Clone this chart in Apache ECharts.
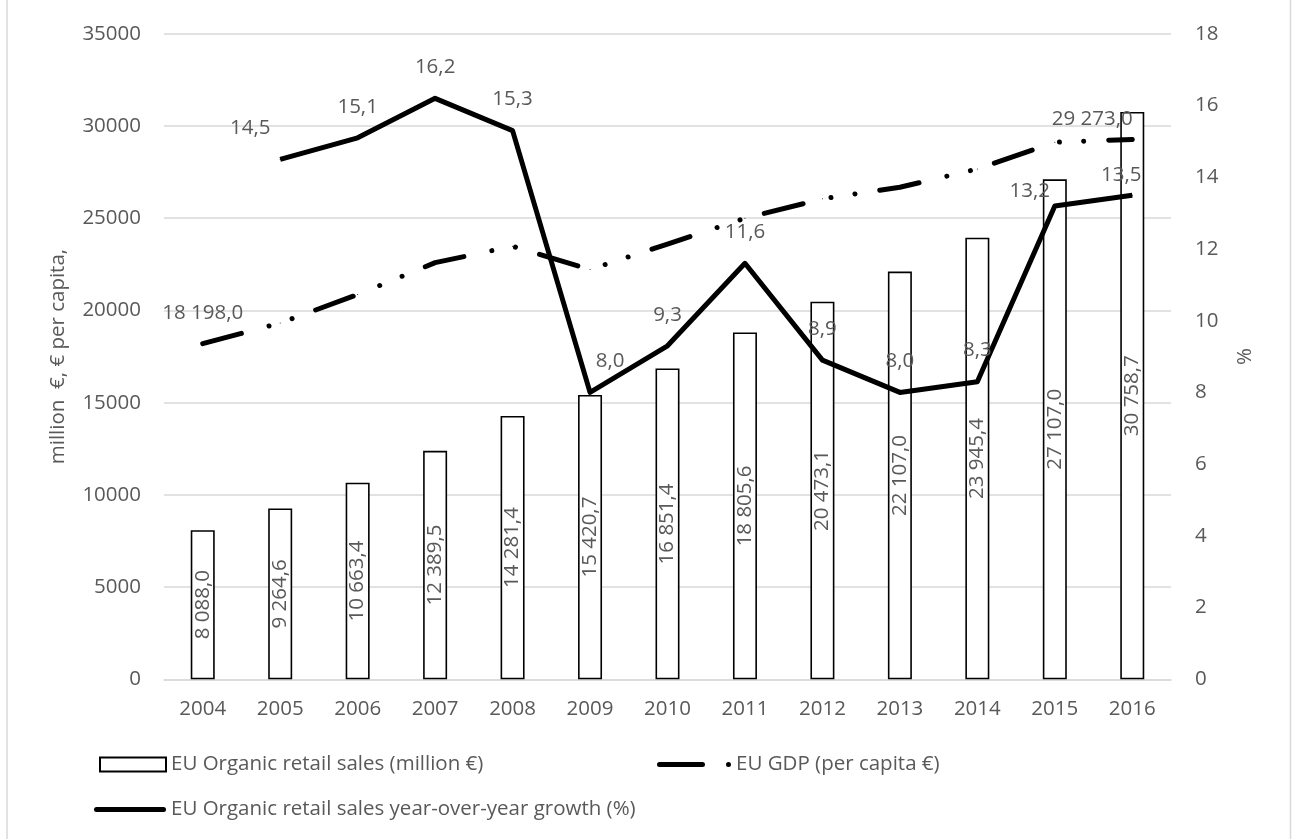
<!DOCTYPE html>
<html>
<head>
<meta charset="utf-8">
<script src="https://cdn.jsdelivr.net/npm/echarts@6/dist/echarts.min.js"></script>
<style>
html,body{margin:0;padding:0;background:#fff;}
#chart{width:1292px;height:839px;}
</style>
</head>
<body>
<div id="chart"></div>
<script>
const years = ['2004','2005','2006','2007','2008','2009','2010','2011','2012','2013','2014','2015','2016'];
const retailSales = [8088.0, 9264.6, 10663.4, 12389.5, 14281.4, 15420.7, 16851.4, 18805.6, 20473.1, 22107.0, 23945.4, 27107.0, 30758.7];
const gdpPerCapita = [18198.0, 19320, 20860, 22590, 23480, 22220, 23600, 25000, 26050, 26680, 27670, 29120, 29273.0];
const growthPct = [null, 14.5, 15.1, 16.2, 15.3, 8.0, 9.3, 11.6, 8.9, 8.0, 8.3, 13.2, 13.5];
const leftTicks = {min: 0, max: 35000, interval: 5000};
const rightTicks = {min: 0, max: 18, interval: 2};
const nameBar = 'EU Organic retail sales (million €)';
const nameGdp = 'EU GDP (per capita €)';
const nameGrowth = 'EU Organic retail sales year-over-year growth (%)';

const FONT = '"Open Sans", "Noto Sans", sans-serif';
const FS = 20.5;
const TXT = '#595959';
const GRID = '#d9d9d9';

function fmtNum(v) {
  const p = v.toFixed(1).split('.');
  return p[0].replace(/\B(?=(\d{3})+(?!\d))/g, ' ') + ',' + p[1];
}

// label offsets for growth points (style only)
const growthOffsets = {1: [-30, 0], 5: [20, 0], 11: [-25, 16], 12: [-11, 11]};
const growthData = growthPct.map((v, i) => {
  if (v === null) return null;
  const o = growthOffsets[i];
  return o ? {value: v, label: {offset: o}} : v;
});
const gdpData = gdpPerCapita.map((v, i) => {
  if (i === 0) return {value: v, label: {show: true}};
  if (i === gdpPerCapita.length - 1) return {value: v, label: {show: true, offset: [-40, 11]}};
  return v;
});

const chart = echarts.init(document.getElementById('chart'), null, {renderer: 'canvas'});
const textStyle = {color: TXT, fontFamily: FONT, fontSize: FS};

chart.setOption({
  animation: false,
  backgroundColor: '#fff',
  textStyle: {fontFamily: FONT},
  grid: {left: 164, right: 121, top: 33.8, bottom: 159.7, containLabel: false},
  legend: [
    {
      data: [{name: nameBar, icon: 'rect'}],
      left: 94, top: 749, itemWidth: 66, itemHeight: 14,
      selectedMode: false, textStyle: textStyle
    },
    {
      data: [{name: nameGdp, icon: 'path://M2.5,0 H45.5 A2.5,2.5 0 0 1 45.5,5 H2.5 A2.5,2.5 0 0 1 2.5,0 Z M71.5,0 A2.5,2.5 0 1 1 71.5,5 A2.5,2.5 0 1 1 71.5,0 Z'}],
      left: 652, top: 749, itemWidth: 74, itemHeight: 5,
      selectedMode: false, textStyle: textStyle
    },
    {
      data: [{name: nameGrowth, icon: 'path://M2.5,0 H69.5 A2.5,2.5 0 0 1 69.5,5 H2.5 A2.5,2.5 0 0 1 2.5,0 Z'}],
      left: 89, top: 794, itemWidth: 72, itemHeight: 5,
      selectedMode: false, textStyle: textStyle
    }
  ],
  xAxis: {
    type: 'category',
    data: years,
    boundaryGap: true,
    axisTick: {show: false},
    axisLine: {lineStyle: {color: GRID, width: 1.5}},
    axisLabel: {color: TXT, fontFamily: FONT, fontSize: FS, margin: 19}
  },
  yAxis: [
    {
      type: 'value',
      min: leftTicks.min, max: leftTicks.max, interval: leftTicks.interval,
      name: 'million  €, € per capita,',
      nameLocation: 'middle', nameRotate: 90, nameGap: 95,
      nameTextStyle: {color: TXT, fontFamily: FONT, fontSize: FS},
      axisLine: {show: false}, axisTick: {show: false},
      axisLabel: {color: TXT, fontFamily: FONT, fontSize: FS, margin: 23, formatter: v => String(v)},
      splitLine: {lineStyle: {color: GRID, width: 1.5}}
    },
    {
      type: 'value',
      min: rightTicks.min, max: rightTicks.max, interval: rightTicks.interval,
      name: '%',
      nameLocation: 'middle', nameRotate: 90, nameGap: 64,
      nameTextStyle: {color: TXT, fontFamily: FONT, fontSize: FS},
      axisLine: {show: false}, axisTick: {show: false},
      axisLabel: {color: TXT, fontFamily: FONT, fontSize: FS, margin: 24},
      splitLine: {show: false}
    }
  ],
  series: [
    {
      name: nameBar,
      type: 'bar',
      yAxisIndex: 0,
      data: retailSales,
      barWidth: 24,
      itemStyle: {color: '#ffffff', borderColor: '#000000', borderWidth: 1.6},
      label: {
        show: true, position: 'inside', rotate: 90,
        color: TXT, fontFamily: FONT, fontSize: FS,
        formatter: p => fmtNum(p.value)
      }
    },
    {
      name: nameGdp,
      type: 'line',
      yAxisIndex: 0,
      data: gdpData,
      symbol: 'circle', symbolSize: 1,
      itemStyle: {color: '#000000'},
      lineStyle: {color: '#000000', width: 5, type: [40, 28.6, 0.01, 24.2, 0.01, 25.1], cap: 'round', join: 'round'},
      label: {
        show: false, position: 'top', distance: 20,
        color: TXT, fontFamily: FONT, fontSize: FS,
        formatter: p => fmtNum(p.value)
      },
      z: 3
    },
    {
      name: nameGrowth,
      type: 'line',
      yAxisIndex: 1,
      data: growthData,
      symbol: 'circle', symbolSize: 1,
      itemStyle: {color: '#000000'},
      lineStyle: {color: '#000000', width: 5, join: 'round'},
      label: {
        show: true, position: 'top', distance: 20,
        color: TXT, fontFamily: FONT, fontSize: FS,
        formatter: p => p.value.toFixed(1).replace('.', ',')
      },
      z: 4
    }
  ],
  graphic: [
    {type: 'line', shape: {x1: 7, y1: 0, x2: 7, y2: 839}, style: {stroke: GRID, lineWidth: 1.5}, silent: true},
    {type: 'line', shape: {x1: 1290.5, y1: 0, x2: 1290.5, y2: 839}, style: {stroke: GRID, lineWidth: 1.5}, silent: true}
  ]
});
</script>
</body>
</html>
